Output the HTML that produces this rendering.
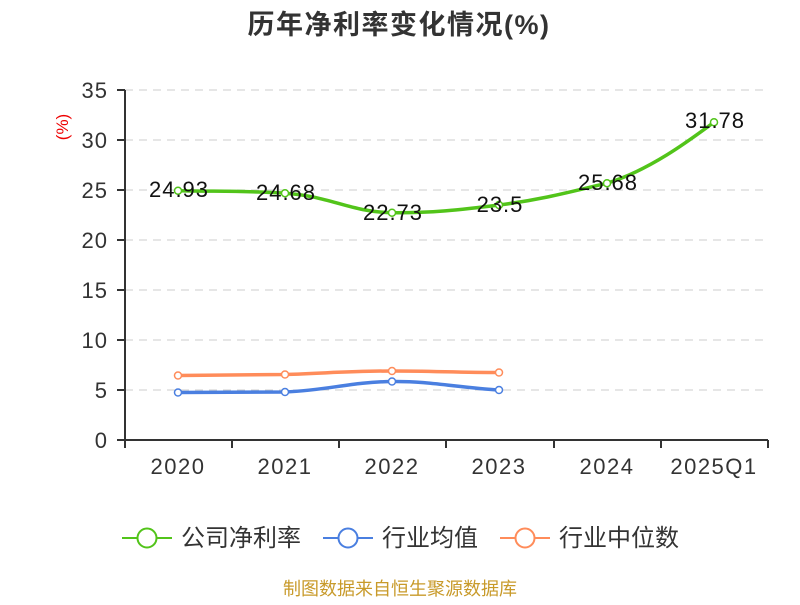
<!DOCTYPE html>
<html><head><meta charset="utf-8"><style>
body{margin:0;background:#fff;width:800px;height:600px;overflow:hidden}
svg{font-family:"Liberation Sans","Noto Sans CJK SC",sans-serif}
</style></head><body>
<svg width="800" height="600" xmlns="http://www.w3.org/2000/svg">
<text x="399" y="34" text-anchor="middle" font-size="27" font-weight="bold" fill="#333" letter-spacing="1.5">历年净利率变化情况(%)</text>
<g stroke="#ccc" stroke-dasharray="8,6" stroke-width="1">
<line x1="125" x2="768" y1="90" y2="90"/><line x1="125" x2="768" y1="140" y2="140"/>
<line x1="125" x2="768" y1="190" y2="190"/><line x1="125" x2="768" y1="240" y2="240"/>
<line x1="125" x2="768" y1="290" y2="290"/><line x1="125" x2="768" y1="340" y2="340"/>
<line x1="125" x2="768" y1="390" y2="390"/>
</g>
<g stroke="#333" stroke-width="2">
<line x1="125" y1="90" x2="125" y2="441"/><line x1="124" y1="440" x2="768" y2="440"/>
<line x1="117" x2="125" y1="90" y2="90"/><line x1="117" x2="125" y1="140" y2="140"/>
<line x1="117" x2="125" y1="190" y2="190"/><line x1="117" x2="125" y1="240" y2="240"/>
<line x1="117" x2="125" y1="290" y2="290"/><line x1="117" x2="125" y1="340" y2="340"/>
<line x1="117" x2="125" y1="390" y2="390"/><line x1="117" x2="125" y1="440" y2="440"/>
<line x1="125" x2="125" y1="440" y2="448"/><line x1="232" x2="232" y1="440" y2="448"/>
<line x1="339" x2="339" y1="440" y2="448"/><line x1="446" x2="446" y1="440" y2="448"/>
<line x1="554" x2="554" y1="440" y2="448"/><line x1="661" x2="661" y1="440" y2="448"/>
<line x1="768" x2="768" y1="440" y2="448"/>
</g>
<g font-size="22" fill="#333" text-anchor="end" letter-spacing="1">
<text x="108" y="98">35</text><text x="108" y="148">30</text><text x="108" y="198">25</text>
<text x="108" y="248">20</text><text x="108" y="298">15</text><text x="108" y="348">10</text>
<text x="108" y="398">5</text><text x="108" y="448">0</text>
</g>
<text transform="translate(68,127) rotate(-90)" text-anchor="middle" font-size="17" fill="#e00">(%)</text>
<g font-size="22" fill="#333" text-anchor="middle" letter-spacing="1.5">
<text x="178" y="474">2020</text><text x="285" y="474">2021</text><text x="392" y="474">2022</text>
<text x="499" y="474">2023</text><text x="607" y="474">2024</text><text x="714" y="474">2025Q1</text>
</g>
<path d="M178,190.7 C220,191.5 250,191 285,193.2 C330,196 350,212 392,212.7 C430,213 460,210 499,205 C540,200 570,192 607,183.2 C650,170 690,140 714,122.2" fill="none" stroke="#52c41a" stroke-width="3.5"/>
<path d="M178,392.5 L285,392 C330,390 350,382 392,381.5 C430,381 460,388 499,390" fill="none" stroke="#4a7fe0" stroke-width="3.5"/>
<path d="M178,375.5 L285,374.5 C330,373 350,371 392,371 C430,371 460,372.5 499,372.5" fill="none" stroke="#ff8c5a" stroke-width="3.5"/>
<g fill="#fff" stroke-width="1.5">
<g stroke="#52c41a"><circle cx="178" cy="190.7" r="3.5"/><circle cx="285" cy="193.2" r="3.5"/><circle cx="392" cy="212.7" r="3.5"/><circle cx="499" cy="205" r="3.5"/><circle cx="607" cy="183.2" r="3.5"/><circle cx="714" cy="122.2" r="3.5"/></g>
<g stroke="#4a7fe0"><circle cx="178" cy="392.5" r="3.5"/><circle cx="285" cy="392" r="3.5"/><circle cx="392" cy="381.5" r="3.5"/><circle cx="499" cy="390" r="3.5"/></g>
<g stroke="#ff8c5a"><circle cx="178" cy="375.5" r="3.5"/><circle cx="285" cy="374.5" r="3.5"/><circle cx="392" cy="371" r="3.5"/><circle cx="499" cy="372.5" r="3.5"/></g>
</g>
<g font-size="22" fill="#111" text-anchor="middle" letter-spacing="1">
<text x="179" y="197">24.93</text><text x="286" y="200">24.68</text><text x="393" y="220">22.73</text>
<text x="500" y="212">23.5</text><text x="608" y="190">25.68</text><text x="715" y="128">31.78</text>
</g>
<g stroke-width="2" fill="#fff">
<line x1="122" x2="172" y1="538" y2="538" stroke="#52c41a"/><circle cx="147" cy="538" r="9.5" stroke="#52c41a"/>
<line x1="323" x2="373" y1="538" y2="538" stroke="#4a7fe0"/><circle cx="348" cy="538" r="9.5" stroke="#4a7fe0"/>
<line x1="500" x2="550" y1="538" y2="538" stroke="#ff8c5a"/><circle cx="525" cy="538" r="9.5" stroke="#ff8c5a"/>
</g>
<g font-size="24" fill="#333">
<text x="181" y="546">公司净利率</text><text x="382" y="546">行业均值</text><text x="559" y="546">行业中位数</text>
</g>
<text x="400" y="595" text-anchor="middle" font-size="18" fill="#c89a2a">制图数据来自恒生聚源数据库</text>
</svg>
</body></html>
